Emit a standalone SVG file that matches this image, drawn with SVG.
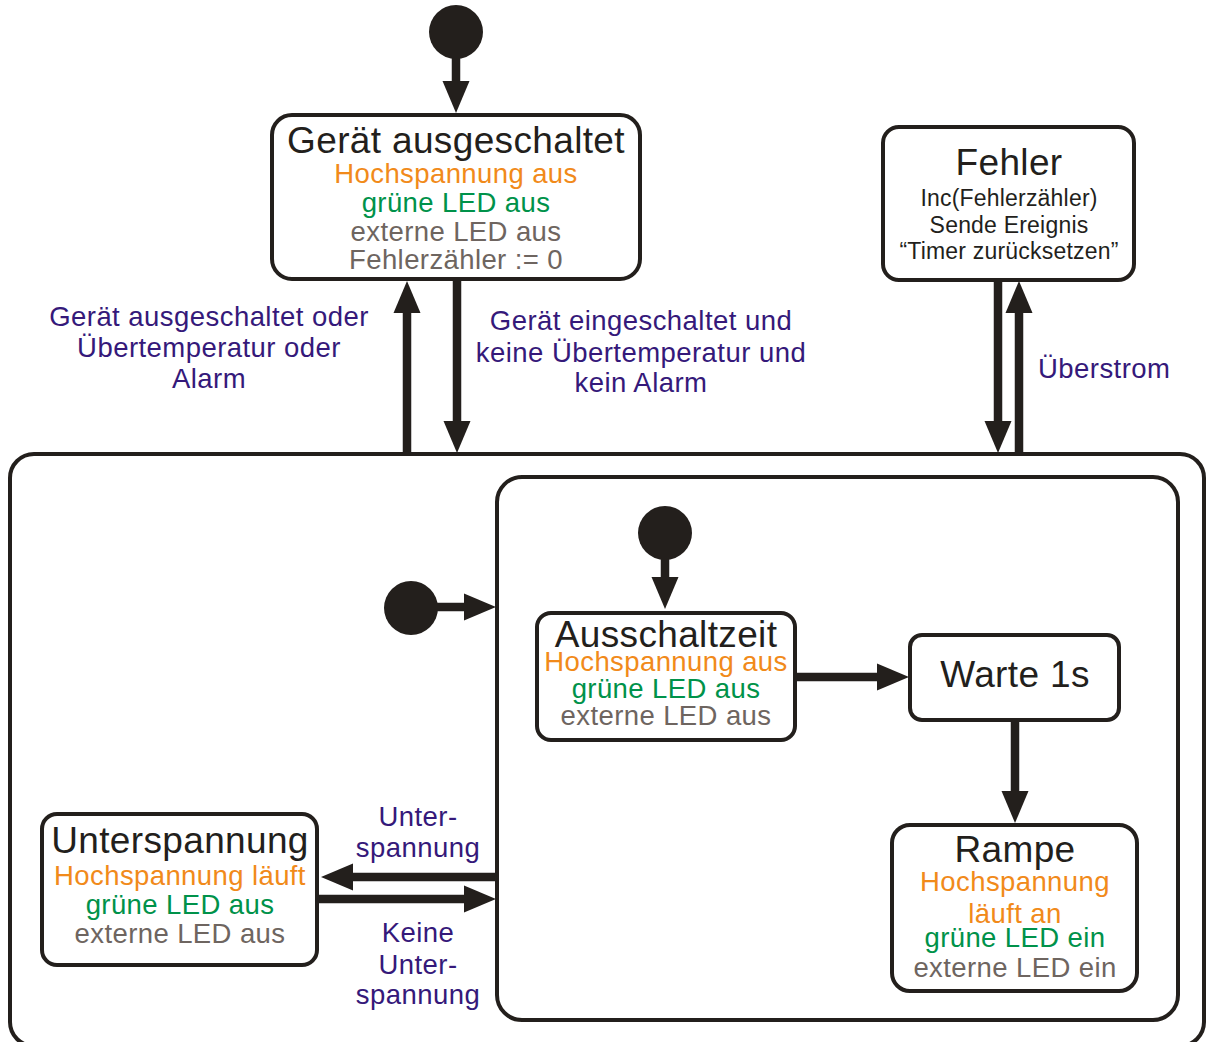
<svg xmlns="http://www.w3.org/2000/svg" width="1206" height="1042" viewBox="0 0 1206 1042">
<style>
text{font-family:"Liberation Sans",Arial,sans-serif;text-anchor:middle}
.box{fill:#fff;stroke:#231f1c;stroke-width:4}
.cont{fill:none;stroke:#231f1c;stroke-width:4}
.dot{fill:#231f1c}
.t{font-size:37px;fill:#231f1c;letter-spacing:0.35px}
.o{font-size:27.5px;fill:#f18a1a;letter-spacing:0.4px}
.g{font-size:27.5px;fill:#00924a;letter-spacing:0.4px}
.y{font-size:27.5px;fill:#6e6560;letter-spacing:0.4px}
.s{font-size:23px;fill:#231f1c;letter-spacing:0.2px}
.lb{font-size:27.5px;fill:#35197a;letter-spacing:0.45px}
.c{fill:none;stroke:#231f1c;stroke-width:8.5}
</style>
<defs>
<marker id="ah" markerUnits="userSpaceOnUse" markerWidth="34" markerHeight="28" refX="0" refY="13.5" orient="auto" overflow="visible">
<path d="M0,0 L32,13.5 L0,27 z" fill="#231f1c"/>
</marker>
</defs>
<g id="outer"><rect class="cont" x="10" y="454" width="1194" height="592" rx="24"/></g>
<g id="inner"><rect class="cont" x="497" y="477" width="681" height="543" rx="25"/></g>
<g id="init-top"><circle class="dot" cx="456" cy="32" r="27"/></g>
<g id="init-outer"><circle class="dot" cx="411" cy="608" r="27"/></g>
<g id="init-inner"><circle class="dot" cx="665" cy="533" r="27"/></g>
<g id="geraet-aus">
<rect class="box" x="272" y="115" width="368" height="164" rx="20"/>
<text class="t" x="456" y="153">Gerät ausgeschaltet</text>
<text class="o" x="456" y="183">Hochspannung aus</text>
<text class="g" x="456" y="212">grüne LED aus</text>
<text class="y" x="456" y="241">externe LED aus</text>
<text class="y" x="456" y="269">Fehlerzähler := 0</text>
</g>
<g id="fehler">
<rect class="box" x="883" y="127" width="251" height="153" rx="16"/>
<text class="t" x="1009" y="175">Fehler</text>
<text class="s" x="1009" y="206">Inc(Fehlerzähler)</text>
<text class="s" x="1009" y="233">Sende Ereignis</text>
<text class="s" x="1009" y="259">“Timer zurücksetzen”</text>
</g>
<g id="ausschaltzeit">
<rect class="box" x="537" y="613" width="258" height="127" rx="14"/>
<text class="t" x="666" y="647">Ausschaltzeit</text>
<text class="o" x="666" y="671">Hochspannung aus</text>
<text class="g" x="666" y="698">grüne LED aus</text>
<text class="y" x="666" y="725">externe LED aus</text>
</g>
<g id="warte">
<rect class="box" x="910" y="635" width="209" height="85" rx="12"/>
<text class="t" x="1015" y="687">Warte 1s</text>
</g>
<g id="rampe">
<rect class="box" x="892" y="825" width="245" height="166" rx="18"/>
<text class="t" x="1015" y="862">Rampe</text>
<text class="o" x="1015" y="891">Hochspannung</text>
<text class="o" x="1015" y="923">läuft an</text>
<text class="g" x="1015" y="947">grüne LED ein</text>
<text class="y" x="1015" y="977">externe LED ein</text>
</g>
<g id="unterspannung">
<rect class="box" x="42" y="814" width="275" height="151" rx="15"/>
<text class="t" x="180" y="853">Unterspannung</text>
<text class="o" x="180" y="885">Hochspannung läuft</text>
<text class="g" x="180" y="914">grüne LED aus</text>
<text class="y" x="180" y="943">externe LED aus</text>
</g>
<g id="connectors">
<path class="c" d="M456,58 V81" marker-end="url(#ah)"/>
<path class="c" d="M407,453 V313" marker-end="url(#ah)"/>
<path class="c" d="M457,281 V421" marker-end="url(#ah)"/>
<path class="c" d="M998,281 V421" marker-end="url(#ah)"/>
<path class="c" d="M1019,453 V313" marker-end="url(#ah)"/>
<path class="c" d="M436,607 H464" marker-end="url(#ah)"/>
<path class="c" d="M665,559 V577" marker-end="url(#ah)"/>
<path class="c" d="M797,677 H877" marker-end="url(#ah)"/>
<path class="c" d="M1015,721 V791" marker-end="url(#ah)"/>
<path class="c" d="M497,877 H353" marker-end="url(#ah)"/>
<path class="c" d="M319,899 H464" marker-end="url(#ah)"/>
</g>
<g id="labels">
<text class="lb" x="209" y="326">Gerät ausgeschaltet oder</text>
<text class="lb" x="209" y="357">Übertemperatur oder</text>
<text class="lb" x="209" y="388">Alarm</text>
<text class="lb" x="641" y="330">Gerät eingeschaltet und</text>
<text class="lb" x="641" y="362">keine Übertemperatur und</text>
<text class="lb" x="641" y="392">kein Alarm</text>
<text class="lb" x="1038" y="378" style="text-anchor:start">Überstrom</text>
<text class="lb" x="418" y="826">Unter-</text>
<text class="lb" x="418" y="857">spannung</text>
<text class="lb" x="418" y="942">Keine</text>
<text class="lb" x="418" y="974">Unter-</text>
<text class="lb" x="418" y="1004">spannung</text>
</g>
</svg>
